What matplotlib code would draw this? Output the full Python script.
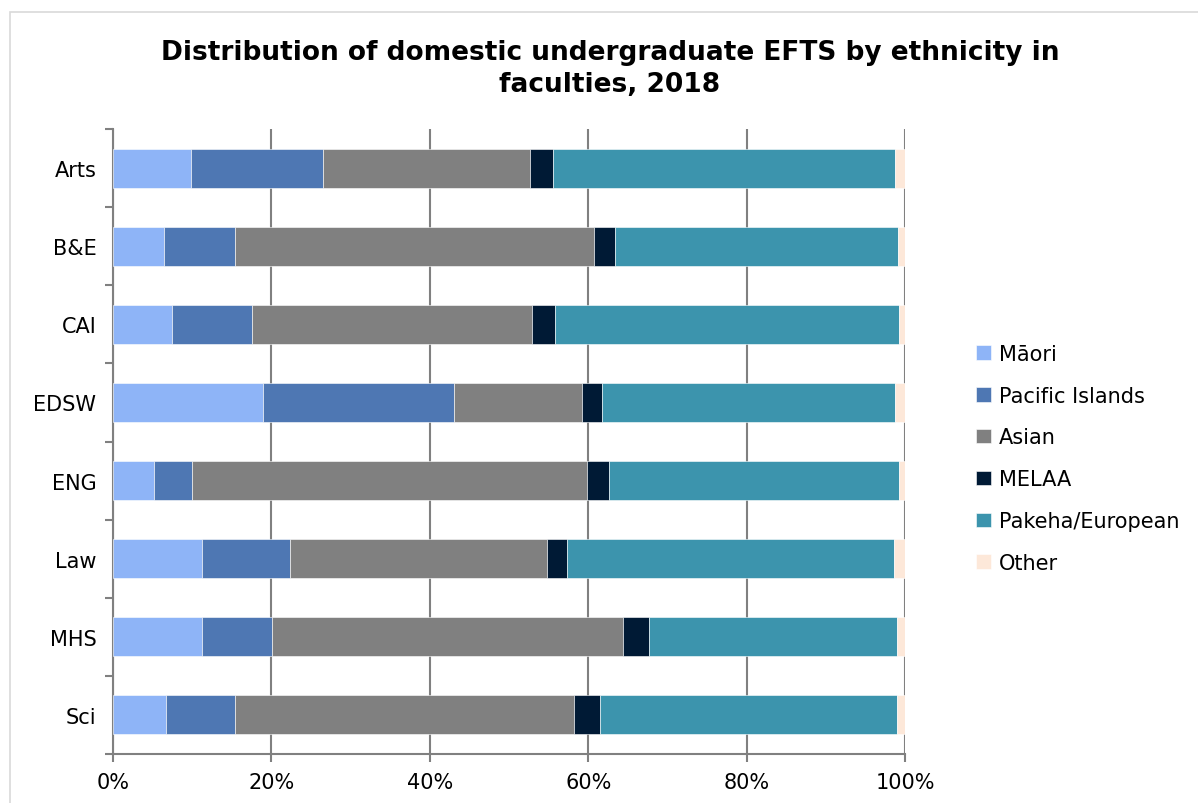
import matplotlib.pyplot as plt
import matplotlib.ticker as ticker
from matplotlib.patches import Rectangle
import numpy as np

faculties = ['Arts', 'B&E', 'CAI', 'EDSW', 'ENG', 'Law', 'MHS', 'Sci']
groups = ['Māori', 'Pacific Islands', 'Asian', 'MELAA', 'Pakeha/European', 'Other']
colors = ['#8eb4f7', '#4e77b3', '#808080', '#001a35', '#3c94ad', '#fde8d9']

# share of EFTS (%) per faculty, one list per ethnic group
maori    = [9.8, 6.4, 7.4, 19.0, 5.2, 11.3, 11.3, 6.7]
pacific  = [16.7, 9.0, 10.2, 24.0, 4.8, 11.0, 8.8, 8.7]
asian    = [26.1, 45.3, 35.3, 16.2, 49.9, 32.5, 44.3, 42.8]
melaa    = [3.0, 2.7, 2.9, 2.5, 2.7, 2.5, 3.3, 3.3]
pakeha   = [43.2, 35.7, 43.5, 37.1, 36.7, 41.3, 31.3, 37.5]
other    = [1.2, 0.9, 0.7, 1.2, 0.7, 1.4, 1.0, 1.0]
series = [maori, pacific, asian, melaa, pakeha, other]

fig = plt.figure(figsize=(11.98, 8.04), dpi=100)
ax = fig.add_axes([113/1198, 1-755/804, 792/1198, 625/804])

# light border round the chart area
fig.patches.append(Rectangle((10/1198, -0.1), 1.2, 1-13/804+0.1, transform=fig.transFigure,
                             fill=False, edgecolor='#d9d9d9', lw=1.2))

y = np.arange(len(faculties))
left = np.zeros(len(faculties))
for name, vals, c in zip(groups, series, colors):
    vals = np.array(vals)
    ax.barh(y, vals, left=left, height=0.5, color=c, label=name,
            edgecolor='white', linewidth=0.4, zorder=3)
    left += vals

ax.set_xlim(0, 100)
ax.set_ylim(len(faculties)-0.5, -0.5)

ax.set_xticks(np.arange(0, 101, 20))
ax.xaxis.set_major_formatter(ticker.FuncFormatter(lambda v, p: f'{v:.0f}%'))
ax.set_yticks(y)
ax.set_yticklabels(faculties)
ax.set_yticks(np.arange(-0.5, len(faculties), 1), minor=True)
ax.tick_params(axis='y', which='major', length=0, pad=12, labelsize=15)
ax.tick_params(axis='y', which='minor', length=6, width=1.5, color='#808080')
ax.tick_params(axis='x', length=6, width=1.5, color='#808080', labelsize=15, pad=7)

ax.grid(axis='x', color='#808080', lw=1.5, zorder=0)
for s in ['top', 'right']:
    ax.spines[s].set_visible(False)
for s in ['left', 'bottom']:
    ax.spines[s].set_color('#808080')
    ax.spines[s].set_linewidth(1.5)

fig.text(610/1198, 1-69/804, 'Distribution of domestic undergraduate EFTS by ethnicity in\nfaculties, 2018',
         ha='center', va='center', fontsize=19, fontweight='bold', linespacing=1.3)

ax.legend(loc='center left', bbox_to_anchor=(1.066, 0.473), frameon=False, fontsize=15,
          handlelength=0.7, handleheight=0.7, handletextpad=0.4, labelspacing=1.05)

plt.savefig('out.png', dpi=100)
